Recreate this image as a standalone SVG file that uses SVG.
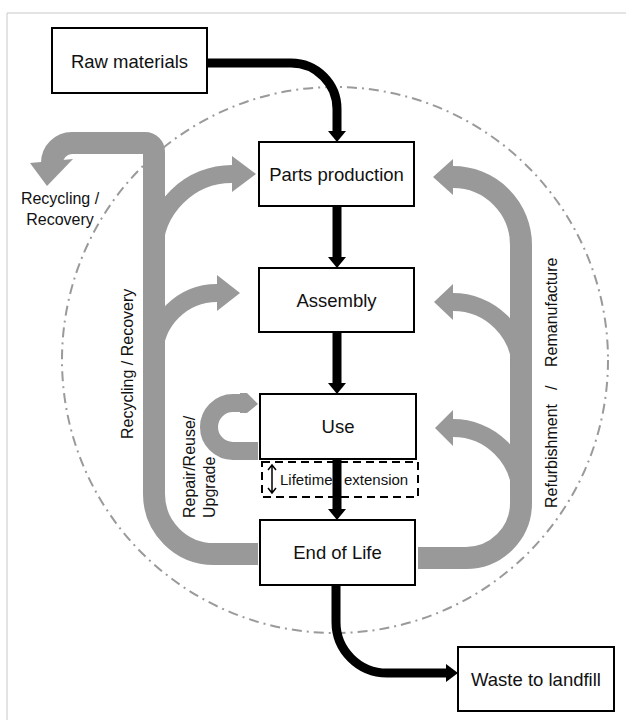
<svg xmlns="http://www.w3.org/2000/svg" width="626" height="720" viewBox="0 0 626 720">
  <style>
    .frame { fill: none; stroke: #c8c8c8; stroke-width: 1; }
    .boundary { fill: none; stroke: #9a9a9a; stroke-width: 2; stroke-dasharray: 10 5 2 5; }
    .band { fill: none; stroke: #999999; stroke-linecap: butt; stroke-linejoin: round; }
    .trunk { stroke-width: 22; }
    .branch { stroke-width: 18; }
    .ghead { fill: #999999; }
    .box { fill: #ffffff; stroke: #000000; stroke-width: 2; }
    .ext { fill: none; stroke: #000000; stroke-width: 2; stroke-dasharray: 8 5; }
    .flow { fill: none; stroke: #000000; stroke-width: 9; }
    .bhead { fill: #000000; }
    .thin { fill: none; stroke: #000000; stroke-width: 1.5; }
    text { font-family: "Liberation Sans", Arial, sans-serif; fill: #111111; }
    .lbl { font-size: 18.5px; text-anchor: middle; }
    .side { font-size: 16px; }
    .small { font-size: 15px; }
  </style>

  <!-- page frame -->
  <path class="frame" d="M7 720 V13 H626"/>

  <!-- system boundary -->
  <ellipse class="boundary" cx="335" cy="360" rx="273" ry="273"/>

  <!-- circular loops -->
  <g id="loop-recycling">
    <path class="band trunk" d="M258 554 H214 A60 60 0 0 1 154 494 V152 A9 9 0 0 0 145 143 H72 A20 20 0 0 0 52 163"/>
    <polygon class="ghead" points="30,163 73,159 47,186"/>
    <path class="band branch" d="M154 252 A78 78 0 0 1 232 174"/>
    <polygon class="ghead" points="232,156 256,174 232,192"/>
    <path class="band branch" d="M154 356 A63 63 0 0 1 217 293"/>
    <polygon class="ghead" points="217,275 240,293 217,311"/>
  </g>

  <g id="loop-refurbishment">
    <path class="band trunk" d="M418 558 H466 A55 55 0 0 0 521 503 V245 A68 68 0 0 0 453 177"/>
    <polygon class="ghead" points="453,159 433,177 453,195"/>
    <path class="band branch" d="M521 370 A68 68 0 0 0 453 302"/>
    <polygon class="ghead" points="453,284 434,302 453,320"/>
    <path class="band branch" d="M521 496 A68 68 0 0 0 453 428"/>
    <polygon class="ghead" points="453,410 435,428 453,446"/>
  </g>

  <g id="loop-repair">
    <path class="band branch" d="M258 451 H233 A24 24 0 0 1 233 403 H242"/>
    <polygon class="ghead" points="240,393 247,393 258,404 247,413 240,413"/>
  </g>

  <!-- loop labels -->
  <text class="side" x="60" y="204" text-anchor="middle" font-size="15.5">Recycling /</text>
  <text class="side" x="60" y="225" text-anchor="middle" font-size="15.5">Recovery</text>
  <text class="side" transform="translate(133,439) rotate(-90)" font-size="16.5">Recycling / Recovery</text>
  <text class="side" transform="translate(195,518) rotate(-90)">Repair/Reuse/</text>
  <text class="side" transform="translate(215,518) rotate(-90)">Upgrade</text>
  <text class="side" transform="translate(557,508) rotate(-90)"><tspan x="0">Refurbishment</tspan><tspan x="118">/</tspan><tspan x="141">Remanufacture</tspan></text>

  <!-- life-cycle stages -->
  <g id="raw-materials">
    <rect class="box" x="52" y="28" width="155" height="65"/>
    <text class="lbl" x="129.5" y="68">Raw materials</text>
  </g>
  <g id="parts-production">
    <rect class="box" x="259" y="142" width="155" height="64"/>
    <text class="lbl" x="336.5" y="181">Parts production</text>
  </g>
  <g id="assembly">
    <rect class="box" x="259" y="268" width="155" height="64"/>
    <text class="lbl" x="336.5" y="307">Assembly</text>
  </g>
  <g id="use">
    <rect class="box" x="260" y="394" width="156" height="65"/>
    <text class="lbl" x="338" y="433">Use</text>
  </g>
  <g id="lifetime-extension">
    <rect class="ext" x="262" y="462" width="156" height="35"/>
    <path class="thin" d="M272 466 V492 M268 470 L272 465 L276 470 M268 488 L272 493 L276 488"/>
    <text class="small" y="485"><tspan x="280">Lifetime</tspan><tspan x="344">extension</tspan></text>
  </g>
  <g id="end-of-life">
    <rect class="box" x="260" y="520" width="155" height="65"/>
    <text class="lbl" x="337.5" y="559">End of Life</text>
  </g>
  <g id="waste-to-landfill">
    <rect class="box" x="458" y="647" width="156" height="64"/>
    <text class="lbl" x="536" y="686">Waste to landfill</text>
  </g>

  <!-- linear material flow -->
  <g id="connectors">
    <path class="flow" stroke-width="10" d="M207 63 H291 A46 46 0 0 1 337 109 V132"/>
    <polygon class="bhead" points="328,131 346,131 337,142"/>
    <path class="flow" d="M337 206 V258"/>
    <polygon class="bhead" points="328,257 346,257 337,268"/>
    <path class="flow" d="M337 332 V384"/>
    <polygon class="bhead" points="328,383 346,383 337,394"/>
    <path class="flow" d="M337 459 V510"/>
    <polygon class="bhead" points="328,509 346,509 337,520"/>
    <path class="flow" d="M336 585 V622 A51 51 0 0 0 387 673 H447"/>
    <polygon class="bhead" points="446,664 446,682 458,673"/>
  </g>
</svg>
